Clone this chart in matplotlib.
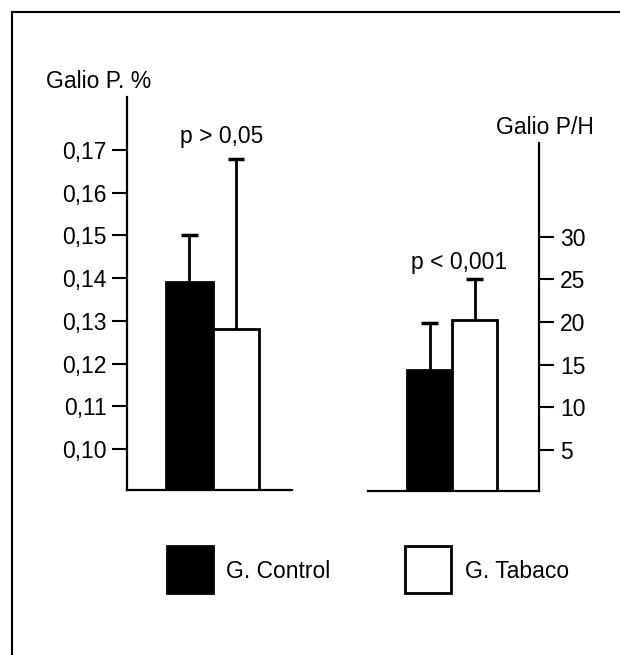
import matplotlib
matplotlib.use("Agg")
import matplotlib.pyplot as plt
from matplotlib.patches import Rectangle
from matplotlib.lines import Line2D

plt.rcParams['font.family'] = ['Liberation Sans', 'DejaVu Sans']

groups = ["G. Control", "G. Tabaco"]
colors = ["black", "white"]

# Left panel: Galio P. %
pct_values = [0.139, 0.128]
pct_err_top = [0.150, 0.168]
pct_ticks = [0.10, 0.11, 0.12, 0.13, 0.14, 0.15, 0.16, 0.17]
pct_ticklabels = ["0,10", "0,11", "0,12", "0,13", "0,14", "0,15", "0,16", "0,17"]

# Right panel: Galio P/H
ph_values = [14.4, 20.3]
ph_err_top = [19.9, 25.0]
ph_ticks = [5, 10, 15, 20, 25, 30]
ph_ticklabels = ["5", "10", "15", "20", "25", "30"]

W, H = 620, 655
fig = plt.figure(figsize=(W / 100, H / 100), dpi=100)
FS = 16.5

def px_axes(x0, x1, ytop, ybot):
    return fig.add_axes([x0 / W, (H - ybot) / H, (x1 - x0) / W, (ybot - ytop) / H])

xpos = [1, 2]

def draw_bars(ax, vals, tops):
    ax.bar(xpos, vals, width=1.0, color=colors, edgecolor="black", linewidth=2, zorder=2)
    ax.vlines(xpos, vals, tops, color="black", linewidth=2, zorder=3)
    ax.hlines(tops, [x - 0.18 for x in xpos], [x + 0.18 for x in xpos],
              color="black", linewidth=2.5, zorder=3)

# Left axes
axL = px_axes(126.7, 291.7, 96.7, 490)
draw_bars(axL, pct_values, pct_err_top)
axL.set_xlim(-0.35, 3.2)
axL.set_ylim(0.0904, 0.1825)
axL.set_yticks(pct_ticks)
axL.set_yticklabels(pct_ticklabels, fontsize=FS)
axL.set_xticks([])
for s in ["top", "right"]:
    axL.spines[s].set_visible(False)
for s in ["left", "bottom"]:
    axL.spines[s].set_linewidth(1.6)
axL.tick_params(axis="y", direction="out", length=10.5, width=1.5, pad=4)
axL.patch.set_alpha(0)

# Right axes
axR = px_axes(368.3, 539, 143, 490.7)
draw_bars(axR, ph_values, ph_err_top)
axR.set_xlim(-0.36, 3.43)
axR.set_ylim(0.23, 41.0)
axR.yaxis.tick_right()
axR.set_yticks(ph_ticks)
axR.set_yticklabels(ph_ticklabels, fontsize=FS)
axR.set_xticks([])
for s in ["top", "left"]:
    axR.spines[s].set_visible(False)
for s in ["right", "bottom"]:
    axR.spines[s].set_linewidth(1.6)
axR.tick_params(axis="y", direction="out", length=11, width=1.5, pad=4)
axR.patch.set_alpha(0)

# Overlay for annotations, frame, legend
ov = fig.add_axes([0, 0, 1, 1], zorder=-1)
ov.set_xlim(0, W)
ov.set_ylim(H, 0)
ov.axis("off")

ov.add_line(Line2D([12, 12], [655, 12], color="black", linewidth=1.5))
ov.add_line(Line2D([12, 620], [12, 12], color="black", linewidth=1.5))

ov.text(99, 82, "Galio P. %", fontsize=FS, ha="center", va="center")
ov.text(545, 128, "Galio P/H", fontsize=FS, ha="center", va="center")
ov.text(222, 137, "p > 0,05", fontsize=FS, ha="center", va="center")
ov.text(459, 262, "p < 0,001", fontsize=FS, ha="center", va="center")

leg_x = [167, 405]
leg_tx = [226, 465]
for c, lx, tx, g in zip(colors, leg_x, leg_tx, groups):
    ov.add_patch(Rectangle((lx, 546), 46, 47, facecolor=c, edgecolor="black", linewidth=2))
    ov.text(tx, 572, g, fontsize=FS, ha="left", va="center")

fig.savefig("out.png", dpi=100)
